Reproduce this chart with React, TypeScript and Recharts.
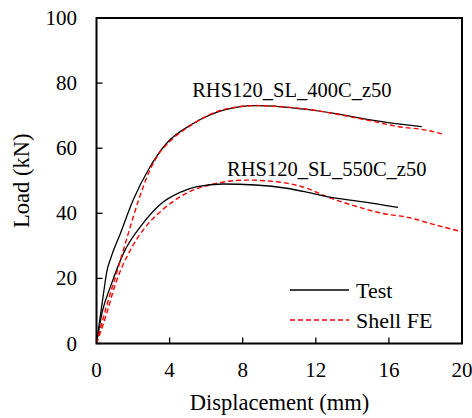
import React from 'react';
import {
  LineChart,
  Line,
  XAxis,
  YAxis,
  ReferenceArea,
  ReferenceDot,
  Legend,
} from 'recharts';

type Pt = { x: number; y: number };

const FONT = 'Liberation Serif';
const textStyle: React.CSSProperties = { fontFamily: FONT };

// Axis ticks
const xTicks = [0, 4, 8, 12, 16, 20];
const yTicks = [0, 20, 40, 60, 80, 100];

// Load–displacement, 400 °C specimen, test
const test400: Pt[] = [
  { x: 0, y: 0 },
  { x: 0.2, y: 8 },
  { x: 0.4, y: 16 },
  { x: 0.56, y: 22 },
  { x: 0.8, y: 26.5 },
  { x: 1.3, y: 33.7 },
  { x: 2.0, y: 44 },
  { x: 2.9, y: 54 },
  { x: 3.8, y: 61.3 },
  { x: 5.3, y: 67.6 },
  { x: 6.9, y: 71.6 },
  { x: 8.7, y: 73.1 },
  { x: 10.0, y: 72.8 },
  { x: 11.5, y: 71.9 },
  { x: 13.1, y: 70.6 },
  { x: 14.9, y: 68.8 },
  { x: 16.5, y: 67.5 },
  { x: 17.8, y: 66.6 },
];

// Load–displacement, 400 °C specimen, shell FE model
const fe400: Pt[] = [
  { x: 0, y: 0 },
  { x: 0.5, y: 10.5 },
  { x: 1.2, y: 23.5 },
  { x: 1.75, y: 34 },
  { x: 2.3, y: 44 },
  { x: 2.9, y: 53 },
  { x: 3.5, y: 59 },
  { x: 4.0, y: 62 },
  { x: 5.3, y: 67.5 },
  { x: 6.9, y: 71.8 },
  { x: 8.7, y: 73.1 },
  { x: 10.0, y: 72.8 },
  { x: 11.5, y: 72.0 },
  { x: 13.1, y: 70.5 },
  { x: 15.0, y: 68.4 },
  { x: 16.8, y: 66.4 },
  { x: 17.8, y: 65.8 },
  { x: 18.9, y: 64.4 },
];

// Load–displacement, 550 °C specimen, test
const test550: Pt[] = [
  { x: 0, y: 0 },
  { x: 0.3, y: 9.3 },
  { x: 0.8, y: 18 },
  { x: 1.5, y: 28 },
  { x: 2.5, y: 36.6 },
  { x: 3.5, y: 42.8 },
  { x: 4.6, y: 46.5 },
  { x: 5.5, y: 48.2 },
  { x: 6.9, y: 49.0 },
  { x: 8.7, y: 48.7 },
  { x: 10.4, y: 47.7 },
  { x: 11.5, y: 46.5 },
  { x: 12.6, y: 45.1 },
  { x: 14.5, y: 43.6 },
  { x: 16.5, y: 41.8 },
];

// Load–displacement, 550 °C specimen, shell FE model
const fe550: Pt[] = [
  { x: 0, y: 0 },
  { x: 0.5, y: 8.2 },
  { x: 1.05, y: 18.5 },
  { x: 1.95, y: 29.7 },
  { x: 2.85, y: 36.9 },
  { x: 3.6, y: 41 },
  { x: 4.9, y: 46.1 },
  { x: 6.4, y: 49.0 },
  { x: 8.2, y: 50.2 },
  { x: 10.0, y: 49.6 },
  { x: 11.5, y: 47.7 },
  { x: 12.6, y: 45.1 },
  { x: 14.0, y: 42.5 },
  { x: 15.9, y: 39.7 },
  { x: 16.8, y: 39.0 },
  { x: 18.5, y: 36.5 },
  { x: 20.0, y: 34.3 },
];

// Curve annotations (anchored at text baseline centre)
const curveLabels = [
  { text: 'RHS120_SL_400C_z50', x: 10.69, y: 75.8 },
  { text: 'RHS120_SL_550C_z50', x: 12.6, y: 51.6 },
];

// Legend entries, top to bottom
const legendOrder = ['Test', 'Shell FE'];

const TICK_LEN = 6;

const XTick = (props: any) => {
  const { x, y, payload } = props;
  return (
    <g>
      <line x1={x} x2={x} y1={y} y2={y - TICK_LEN} stroke="#000" strokeWidth={1.3} />
      <text
        x={x}
        y={y + 33}
        textAnchor="middle"
        style={textStyle}
        fontSize={21}
        fill="#000"
      >
        {payload.value}
      </text>
    </g>
  );
};

const YTick = (props: any) => {
  const { x, y, payload } = props;
  return (
    <g>
      <line x1={x} x2={x + TICK_LEN} y1={y} y2={y} stroke="#000" strokeWidth={1.3} />
      <text
        x={x - 19.5}
        y={y + 7}
        textAnchor="end"
        style={textStyle}
        fontSize={21}
        fill="#000"
      >
        {payload.value}
      </text>
    </g>
  );
};

const LegendBox = (props: any) => {
  const items = (props.payload || [])
    .filter((p: any) => p.type !== 'none')
    .sort((a: any, b: any) => legendOrder.indexOf(a.value) - legendOrder.indexOf(b.value));
  return (
    <svg width={170} height={62} style={{ display: 'block' }}>
      {items.map((it: any, i: number) => {
        const cy = 12 + i * 30;
        const dashed = it.payload && it.payload.strokeDasharray;
        return (
          <g key={it.value}>
            <line
              x1={2}
              x2={61}
              y1={cy}
              y2={cy}
              stroke={it.color}
              strokeWidth={it.payload && it.payload.strokeWidth ? it.payload.strokeWidth : 1.3}
              strokeDasharray={dashed || undefined}
            />
            <text x={68} y={cy + 7.5} style={textStyle} fontSize={22} fill="#000">
              {it.value}
            </text>
          </g>
        );
      })}
    </svg>
  );
};

export default function App() {
  return (
    <div style={{ position: 'absolute', left: 0, top: 0, background: '#fff' }}>
      <LineChart
        width={472}
        height={418}
        margin={{ top: 18, right: 10, bottom: 0, left: 0 }}
      >
        <XAxis
          type="number"
          dataKey="x"
          domain={[0, 20]}
          ticks={xTicks}
          allowDataOverflow
          axisLine={false}
          tickLine={false}
          tickSize={0}
          tickMargin={0}
          height={74.5}
          tick={<XTick />}
          label={{
            content: () => (
              <text
                x={279.5}
                y={410}
                textAnchor="middle"
                style={textStyle}
                fontSize={22.5}
                fill="#000"
              >
                Displacement (mm)
              </text>
            ),
          }}
        />
        <YAxis
          type="number"
          domain={[0, 100]}
          ticks={yTicks}
          allowDataOverflow
          axisLine={false}
          tickLine={false}
          tickSize={0}
          tickMargin={0}
          width={96.5}
          tick={<YTick />}
          label={{
            content: () => (
              <text
                x={29}
                y={180.75}
                textAnchor="middle"
                style={textStyle}
                fontSize={22.5}
                fill="#000"
                transform="rotate(-90 29 180.75)"
              >
                Load (kN)
              </text>
            ),
          }}
        />
        <ReferenceArea
          x1={0}
          x2={20}
          y1={0}
          y2={100}
          fill="none"
          stroke="#000"
          strokeWidth={2}
          fillOpacity={0}
        />
        <Line
          data={fe550}
          dataKey="y"
          type="monotone"
          stroke="#ff0000"
          strokeWidth={1.4}
          strokeDasharray="5 3"
          dot={false}
          legendType="none"
          isAnimationActive={false}
        />
        <Line
          data={test550}
          dataKey="y"
          type="monotone"
          stroke="#000"
          strokeWidth={1.3}
          dot={false}
          legendType="none"
          isAnimationActive={false}
        />
        <Line
          data={test400}
          dataKey="y"
          name="Test"
          type="monotone"
          stroke="#000"
          strokeWidth={1.3}
          dot={false}
          isAnimationActive={false}
        />
        <Line
          data={fe400}
          dataKey="y"
          name="Shell FE"
          type="monotone"
          stroke="#ff0000"
          strokeWidth={1.4}
          strokeDasharray="5 3"
          dot={false}
          isAnimationActive={false}
        />
        {curveLabels.map((c) => (
          <ReferenceDot
            key={c.text}
            x={c.x}
            y={c.y}
            r={0}
            fill="none"
            stroke="none"
            label={{
              content: (p: any) => {
                const vb = p.viewBox || {};
                const cx = (vb.x ?? 0) + (vb.width ?? 0) / 2;
                const cy = (vb.y ?? 0) + (vb.height ?? 0) / 2;
                return (
                  <text
                    x={cx}
                    y={cy}
                    textAnchor="middle"
                    style={textStyle}
                    fontSize={20.5}
                    fill="#000"
                  >
                    {c.text}
                  </text>
                );
              },
            }}
          />
        ))}
        <Legend
          layout="vertical"
          align="center"
          verticalAlign="middle"
          content={<LegendBox />}
          wrapperStyle={{ position: 'absolute', left: 288, top: 278, width: 170, height: 62 }}
        />
      </LineChart>
    </div>
  );
}
